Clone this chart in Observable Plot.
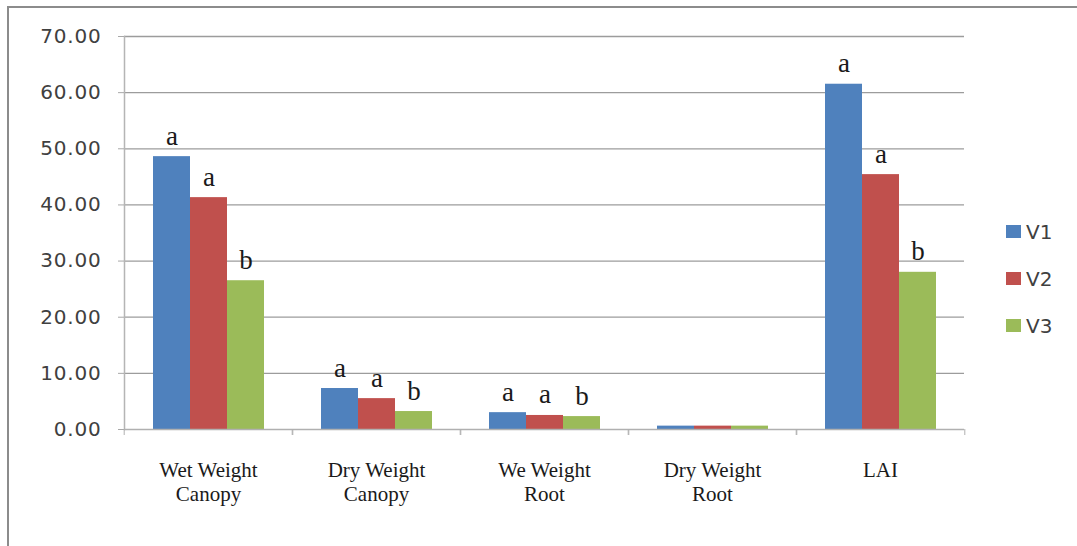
<!DOCTYPE html>
<html>
<head>
<meta charset="utf-8">
<script src="https://cdn.jsdelivr.net/npm/d3@7"></script>
<script src="https://cdn.jsdelivr.net/npm/@observablehq/plot@0.6"></script>
<style>
  body { margin: 0; background: #fff; }
  #wrap { position: relative; width: 1077px; height: 546px; overflow: hidden; background: #fff; }
  #border { position: absolute; left: 7px; top: 6px; width: 1100px; height: 600px;
            border-left: 2px solid #8c8c8c; border-top: 2px solid #8c8c8c; box-sizing: border-box; }
  #chart { position: absolute; left: 0; top: 0; }
  #legend { position: absolute; left: 1006px; top: 208px; font-family: "DejaVu Sans", sans-serif;
            font-size: 20px; color: #404040; }
  .item { display: flex; align-items: center; height: 47px; }
  .sw { width: 15px; height: 13px; margin-right: 5px; }
  .yax text { letter-spacing: 0.8px; }
</style>
</head>
<body>
<div id="wrap">
  <div id="border"></div>
  <div id="chart"></div>
  <div id="legend"></div>
</div>
<script>
const categories = ["Wet Weight\nCanopy", "Dry Weight\nCanopy", "We Weight\nRoot", "Dry Weight\nRoot", "LAI"];
const series = ["V1", "V2", "V3"];
const colors = ["#4F81BD", "#C0504D", "#9BBB59"];
const valuesV1 = [48.6, 7.3, 3.0, 0.6, 61.5];
const valuesV2 = [41.3, 5.5, 2.5, 0.6, 45.4];
const valuesV3 = [26.5, 3.2, 2.3, 0.6, 28.0];
const lettersV1 = ["a", "a", "a", "", "a"];
const lettersV2 = ["a", "a", "a", "", "a"];
const lettersV3 = ["b", "b", "b", "", "b"];
const yTicks = [0, 10, 20, 30, 40, 50, 60, 70];

const seriesValues = [valuesV1, valuesV2, valuesV3];
const seriesLetters = [lettersV1, lettersV2, lettersV3];
const rows = categories.flatMap((c, i) => series.map((s, j) => ({
  category: c, series: s, value: seriesValues[j][i], letter: seriesLetters[j][i]
})));

const W = 1077, H = 546, mL = 122, mR = 112, mT = 36, mB = 117;
const halfBand = (W - mL - mR) / categories.length / 2;

const chart = Plot.plot({
  width: W, height: H,
  marginLeft: mL, marginRight: mR, marginTop: mT, marginBottom: mB,
  style: { background: "transparent", overflow: "visible" },
  fx: { domain: categories, padding: 0, axis: null, label: null },
  x: { domain: series, paddingInner: 0, paddingOuter: 0.76, axis: null },
  y: { domain: [0, 70], axis: null },
  color: { domain: series, range: colors },
  marks: [
    Plot.ruleY(yTicks.slice(1), { stroke: "#9c9c9c", strokeWidth: 1.3 }),
    Plot.frame({ anchor: "left", facetAnchor: "left", stroke: "#b5b5b5", strokeWidth: 1.5 }),
    Plot.barY(rows, { fx: "category", x: "series", y: "value", fill: "series" }),
    Plot.ruleY([0], { stroke: "#b0b0b0", strokeWidth: 1.5 }),
    Plot.text(rows.filter(d => d.letter), {
      fx: "category", x: "series", y: "value", text: "letter",
      dy: -12, lineAnchor: "bottom", fontFamily: "Liberation Serif, serif",
      fontSize: 27, fill: "#1a1a1a"
    }),
    Plot.axisY({
      ticks: yTicks, tickFormat: d3.format(".2f"), tickSize: 6, tickPadding: 17,
      fontSize: 20, fontFamily: "DejaVu Sans, sans-serif", fill: "#404040", stroke: "#a8a8a8",
      label: null, className: "yax"
    }),
    Plot.axisFx({ anchor: "bottom", tickSize: 6, dx: -halfBand, tickFormat: () => "", stroke: "#b0b0b0", label: null }),
    Plot.axisFx({ anchor: "bottom", tickSize: 6, dx: halfBand, tickFormat: () => "", stroke: "#b0b0b0", label: null }),
    Plot.axisFx({
      anchor: "bottom", tickSize: 0, tickPadding: 30, fontSize: 21, lineHeight: 1.15,
      fontFamily: "Liberation Serif, serif", fill: "#1a1a1a", label: null
    })
  ]
});
document.getElementById("chart").appendChild(chart);

const legend = document.getElementById("legend");
series.forEach((s, i) => {
  const item = document.createElement("div");
  item.className = "item";
  const sw = document.createElement("div");
  sw.className = "sw";
  sw.style.background = colors[i];
  const label = document.createElement("span");
  label.textContent = s;
  item.appendChild(sw);
  item.appendChild(label);
  legend.appendChild(item);
});
</script>
</body>
</html>
